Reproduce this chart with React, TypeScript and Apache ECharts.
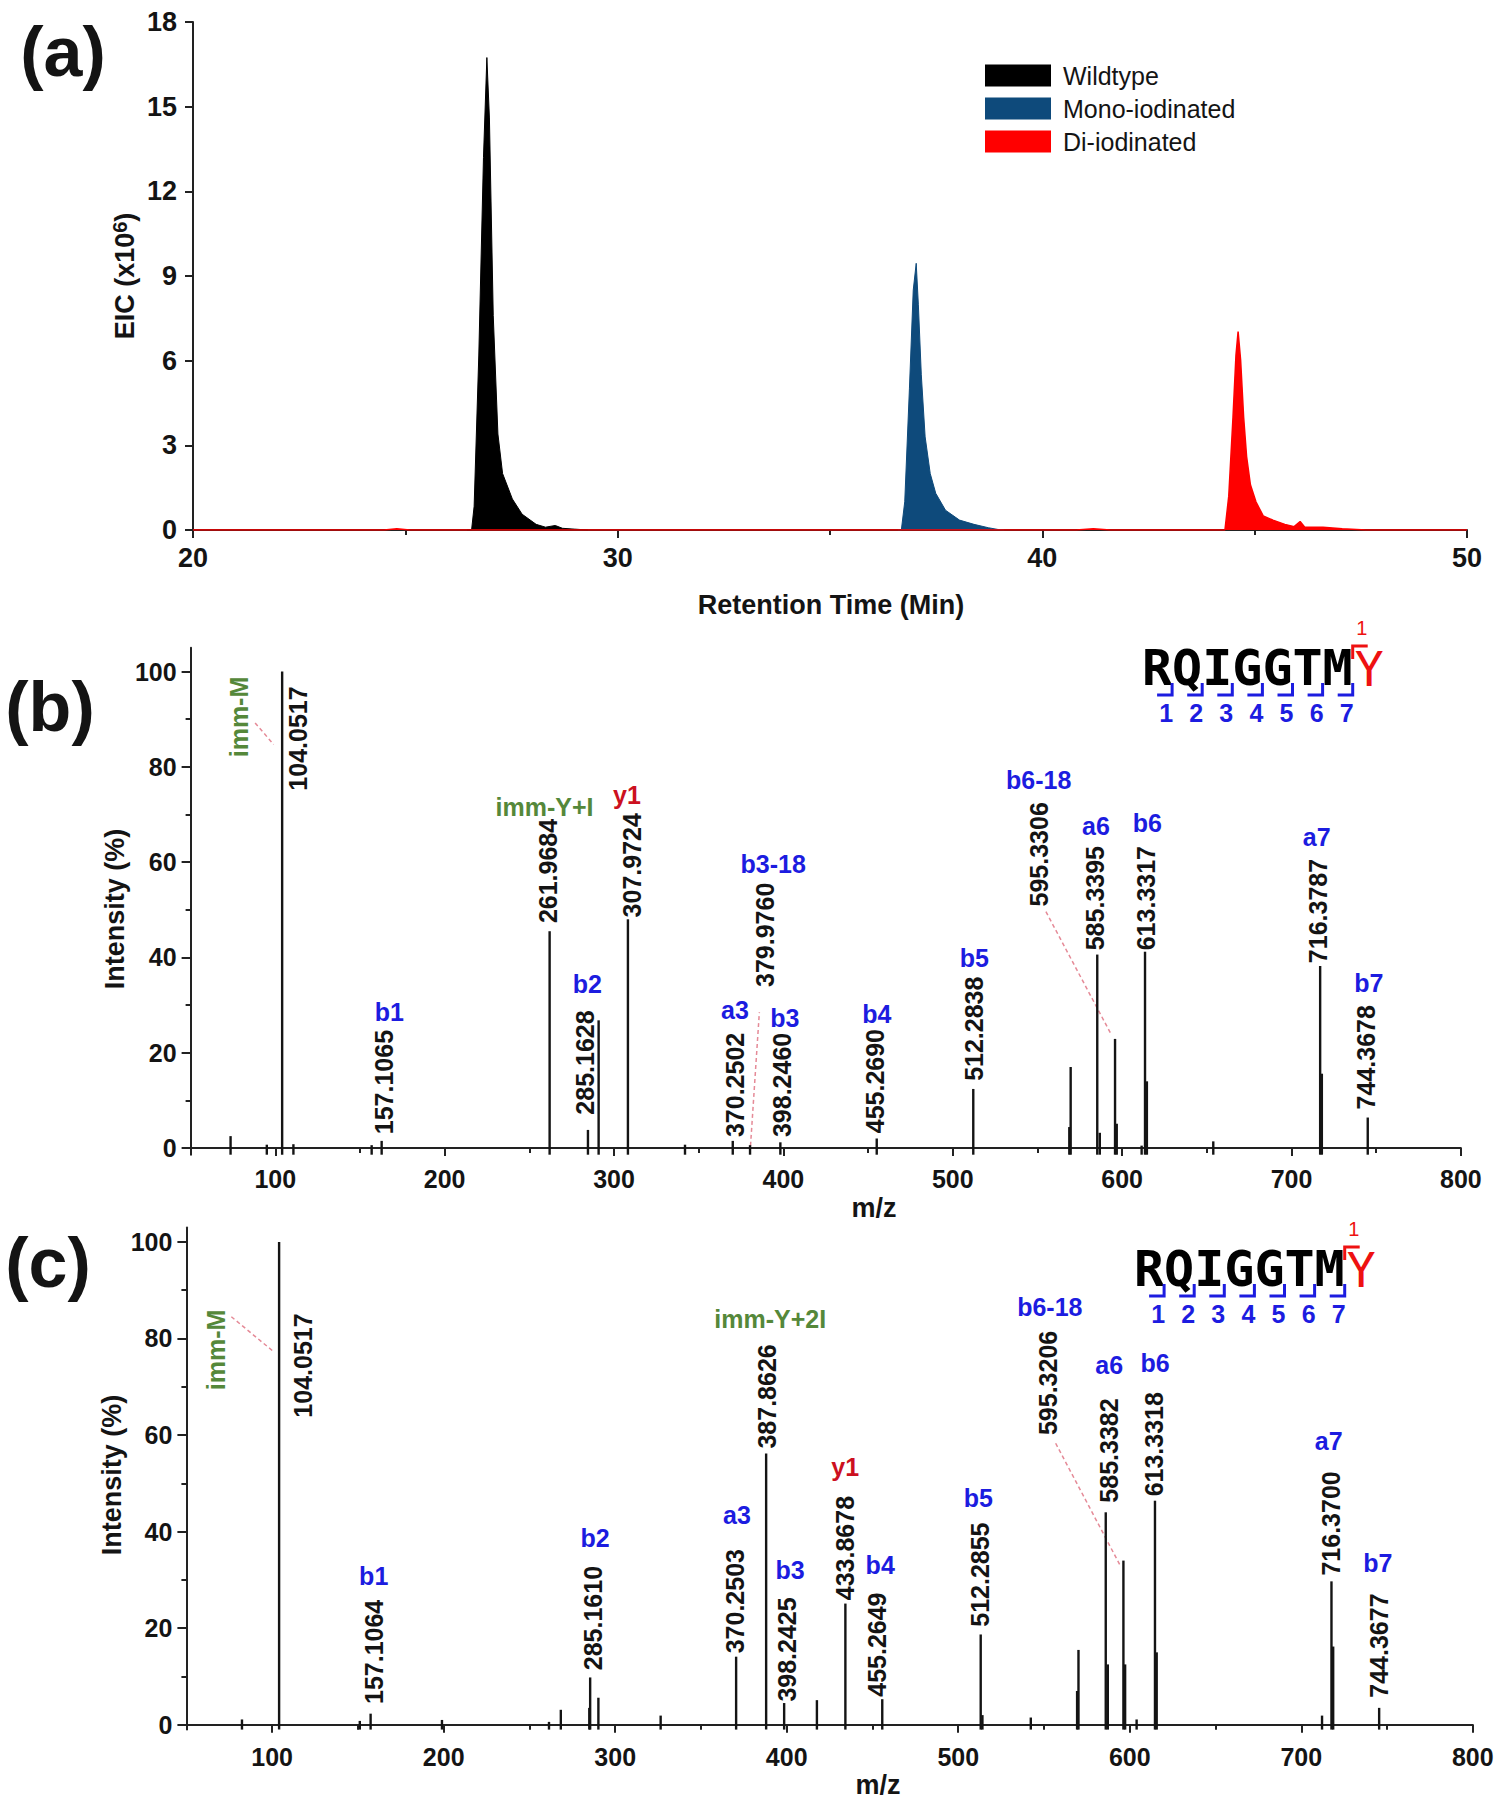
import React, { useEffect, useRef } from "react";
import * as echarts from "echarts";

const FONT = "'Liberation Sans', Arial, Helvetica, sans-serif";
const MONO = "'DejaVu Sans Mono', 'Liberation Mono', monospace";
const BLUE = "#1c1ce0";
const RED_LBL = "#cc1020";
const GREEN = "#55883a";
const PINK = "#e58a97";
const INK = "#141414";

// ---------------- Panel (a): EIC traces [retention time (min), EIC x10^6] ----------------
const seriesNames = ["Wildtype", "Mono-iodinated", "Di-iodinated"];
const seriesColors = ["#000000", "#0e4a7b", "#ff0000"];
const wildtypeTrace = [
  [26.45, 0], [26.56, 0], [26.62, 0.84], [26.73, 6.2], [26.84, 13.2], [26.92, 16.74],
  [26.98, 14.6], [27.07, 7.6], [27.18, 3.4], [27.29, 2.0], [27.52, 1.1], [27.75, 0.56],
  [28.08, 0.2], [28.3, 0.1], [28.53, 0.16], [28.7, 0.06], [28.99, 0.03], [29.3, 0],
];
const monoTrace = [
  [36.6, 0], [36.68, 0], [36.76, 1.0], [36.87, 5.0], [36.96, 8.5], [37.03, 9.45],
  [37.08, 8.0], [37.15, 5.5], [37.24, 3.3], [37.36, 2.0], [37.49, 1.3], [37.72, 0.7],
  [38.05, 0.35], [38.39, 0.2], [38.73, 0.08], [38.95, 0.02], [39.1, 0],
];
const diTrace = [
  [20, 0], [24.5, 0], [24.8, 0.04], [25.1, 0], [40.8, 0], [41.2, 0.04], [41.6, 0],
  [44.3, 0], [44.39, 1.2], [44.49, 4.0], [44.56, 6.2], [44.61, 7.03], [44.67, 6.0],
  [44.74, 4.0], [44.81, 2.6], [44.9, 1.6], [45.03, 1.0], [45.2, 0.5], [45.43, 0.35],
  [45.71, 0.2], [45.93, 0.12], [46.07, 0.3], [46.18, 0.1], [46.61, 0.1], [47.06, 0.04],
  [47.62, 0], [50, 0],
];

// ---------------- Panels (b),(c): MS/MS spectra ----------------
const mzMajorTicks = [100, 200, 300, 400, 500, 600, 700, 800];
const mzMinorTicks = [50, 150, 250, 350, 450, 550, 650, 750];
const intensityMajorTicks = [0, 20, 40, 60, 80, 100];
const intensityMinorTicks = [10, 30, 50, 70, 90];

// (b) peaks [m/z, relative intensity %]
const peaksB = [
  [73.6, 2.5], [95, 0.7], [104.05, 100], [110.7, 0.8], [156.9, 0.6], [162.8, 1.5],
  [261.97, 45.5], [284.6, 3.8], [290.9, 26.8], [308.2, 48], [341.9, 0.7], [370.1, 1.5],
  [380.3, 0.6], [398.2, 1.2], [455.1, 2.0], [512.1, 12.4], [568.8, 4.4], [569.6, 17],
  [585.3, 40.6], [586.8, 3.2], [595.8, 22.9], [596.8, 5.1], [611.5, 0.5], [613.5, 41.2],
  [614.6, 14], [653.8, 1.4], [716.9, 38.2], [717.9, 15.6], [745, 6.4],
];
// (b) m/z annotations [m/z, intensity at text foot, text]
const mzTextB = [
  [113.7, 75.0, "104.0517"], [164, 2.9, "157.1065"], [260.8, 47.2, "261.9684"],
  [282.9, 7.0, "285.1628"], [310.4, 48.4, "307.9724"], [371.4, 2.3, "370.2502"],
  [389.1, 33.8, "379.9760"], [399, 2.3, "398.2460"], [454.1, 3.1, "455.2690"],
  [512.7, 14.1, "512.2838"], [550.7, 50.7, "595.3306"], [583.7, 41.5, "585.3395"],
  [614, 41.5, "613.3317"], [715.5, 38.8, "716.3787"], [743.7, 8.1, "744.3678"],
];
// (b) ion annotations [m/z, intensity (centre), text, kind]
const ionTextB = [
  [167.4, 28.6, "b1", "b"], [259, 71.5, "imm-Y+I", "imm"], [307.6, 74, "y1", "y"],
  [284.2, 34.4, "b2", "b"], [371.4, 28.9, "a3", "b"], [394, 59.6, "b3-18", "b"],
  [400.9, 27.2, "b3", "b"], [455.1, 28.2, "b4", "b"], [512.7, 39.9, "b5", "b"],
  [550.7, 77.3, "b6-18", "b"], [584.5, 67.6, "a6", "b"], [614.9, 68.3, "b6", "b"],
  [714.9, 65.3, "a7", "b"], [745.6, 34.7, "b7", "b"],
];
const rotIonB = [[78.6, 82, "imm-M"]];
const leadersB = [
  [88.1, 89.2, 99.0, 84.7],
  [380.3, -1, 385.8, 28.5],
  [555, 49.6, 593, 24.2],
];

// (c) peaks
const peaksC = [
  [82.4, 1.1], [104.05, 100], [151.1, 0.8], [157.4, 2.3], [199, 1.0], [261.4, 0.6],
  [268.3, 3.1], [284.9, 3.5], [285.4, 9.8], [290.2, 5.6], [326.5, 1.9], [370.5, 14.1],
  [388, 56.2], [398.5, 4.5], [417.6, 5.1], [434.2, 25.1], [455.7, 5.3], [513.1, 18.7],
  [514.1, 2], [542.3, 1.5], [569.3, 7], [570.1, 15.5], [586, 44], [587.2, 12.5],
  [596.3, 34], [597.3, 12.5], [604, 1.1], [614.7, 46.4], [615.7, 15], [712.1, 1.9],
  [717.6, 29.7], [718.6, 16.2], [745.4, 3.5],
];
const mzTextC = [
  [117.7, 63.6, "104.0517"], [159.2, 4.3, "157.1064"], [287.2, 11.3, "285.1610"],
  [370, 14.8, "370.2503"], [388.4, 57.2, "387.8626"], [400.1, 4.8, "398.2425"],
  [434.1, 25.8, "433.8678"], [452.6, 5.8, "455.2649"], [512.8, 20.3, "512.2855"],
  [552.6, 60, "595.3206"], [588, 46, "585.3382"], [613.9, 47.3, "613.3318"],
  [717.6, 30.9, "716.3700"], [745.4, 5.6, "744.3677"],
];
const ionTextC = [
  [159.2, 30.9, "b1", "b"], [288.3, 38.7, "b2", "b"], [371, 43.4, "a3", "b"],
  [390.4, 84.1, "imm-Y+2I", "imm"], [402, 32, "b3", "b"], [434.1, 53.4, "y1", "y"],
  [454.5, 33, "b4", "b"], [511.7, 46.9, "b5", "b"], [553.4, 86.5, "b6-18", "b"],
  [588, 74.6, "a6", "b"], [614.7, 74.9, "b6", "b"], [716, 58.7, "a7", "b"],
  [744.6, 33.4, "b7", "b"],
];
const rotIonC = [[67, 69.3, "imm-M"]];
const leadersC = [
  [76.2, 84.5, 100.4, 77.4],
  [556.8, 58.3, 594.4, 33],
];

const peptide = ["R", "Q", "I", "G", "G", "T", "M"];
const modifiedResidue = "Y";
const bIonSites = [1, 2, 3, 4, 5, 6, 7];
const yIonSites = [1];

// ---------------- helpers ----------------
const kindColor = (k: string) => (k === "imm" ? GREEN : k === "y" ? RED_LBL : BLUE);

function stickSeries(data: number[][], idx: number, yMin: number) {
  return {
    type: "custom",
    xAxisIndex: idx,
    yAxisIndex: idx,
    silent: true,
    clip: false,
    z: 3,
    data: data.map((d) => [d[0], d[1]]),
    renderItem: (_p: any, api: any) => {
      const a = api.coord([api.value(0), yMin]);
      const b = api.coord([api.value(0), api.value(1)]);
      return {
        type: "line",
        shape: { x1: a[0], y1: a[1], x2: b[0], y2: b[1] },
        style: { stroke: INK, lineWidth: 2.4 },
      };
    },
  };
}

function rotTextSeries(items: any[], idx: number, color: string, weight: string) {
  return {
    type: "custom",
    xAxisIndex: idx,
    yAxisIndex: idx,
    silent: true,
    clip: false,
    z: 4,
    data: items.map((d) => [d[0], d[1]]),
    renderItem: (params: any, api: any) => {
      const it = items[params.dataIndex];
      const p = api.coord([it[0], it[1]]);
      return {
        type: "text",
        x: p[0],
        y: p[1],
        rotation: Math.PI / 2,
        style: {
          text: it[2],
          fill: color,
          fontSize: 25,
          fontWeight: weight,
          fontFamily: FONT,
          align: "left",
          verticalAlign: "middle",
        },
      };
    },
  };
}

function ionTextSeries(items: any[], idx: number) {
  return {
    type: "custom",
    xAxisIndex: idx,
    yAxisIndex: idx,
    silent: true,
    clip: false,
    z: 4,
    data: items.map((d) => [d[0], d[1]]),
    renderItem: (params: any, api: any) => {
      const it = items[params.dataIndex];
      const p = api.coord([it[0], it[1]]);
      return {
        type: "text",
        x: p[0],
        y: p[1],
        style: {
          text: it[2],
          fill: kindColor(it[3]),
          fontSize: 25,
          fontWeight: "bold",
          fontFamily: FONT,
          align: "center",
          verticalAlign: "middle",
        },
      };
    },
  };
}

function leaderSeries(items: number[][], idx: number) {
  return {
    type: "custom",
    xAxisIndex: idx,
    yAxisIndex: idx,
    silent: true,
    clip: false,
    z: 2,
    data: items,
    renderItem: (_p: any, api: any) => {
      const a = api.coord([api.value(0), api.value(1)]);
      const b = api.coord([api.value(2), api.value(3)]);
      return {
        type: "line",
        shape: { x1: a[0], y1: a[1], x2: b[0], y2: b[1] },
        style: { stroke: PINK, lineWidth: 1.5, lineDash: [4, 3] },
      };
    },
  };
}

function seqGraphic(x0: number, cy: number) {
  const cw = 30.1;
  const els: any[] = [];
  peptide.forEach((ch, i) =>
    els.push({
      type: "text",
      x: x0 + (i + 0.5) * cw,
      y: cy,
      style: { text: ch, fontSize: 50, fontWeight: "bold", fontFamily: MONO, fill: "#000", align: "center", verticalAlign: "middle" },
    })
  );
  els.push({
    type: "text",
    x: x0 + 7.55 * cw,
    y: cy + 1,
    style: { text: modifiedResidue, fontSize: 48, fontWeight: "normal", fontFamily: MONO, fill: "#ee1111", align: "center", verticalAlign: "middle" },
  });
  bIonSites.forEach((k) => {
    const bx = x0 + k * cw;
    els.push({
      type: "polyline",
      shape: { points: [[bx - 15, cy + 27], [bx, cy + 27], [bx, cy + 15]] },
      style: { stroke: BLUE, lineWidth: 3, fill: null },
    });
    els.push({
      type: "text",
      x: bx - 6,
      y: cy + 45,
      style: { text: String(k), fontSize: 25, fontWeight: "bold", fontFamily: FONT, fill: BLUE, align: "center", verticalAlign: "middle" },
    });
  });
  yIonSites.forEach((k) => {
    const bx = x0 + (peptide.length + 1 - k) * cw;
    els.push({
      type: "polyline",
      shape: { points: [[bx, cy - 9], [bx, cy - 22], [bx + 15, cy - 22]] },
      style: { stroke: "#ee1111", lineWidth: 3, fill: null },
    });
    els.push({
      type: "text",
      x: bx + 9,
      y: cy - 40,
      style: { text: String(k), fontSize: 20, fontWeight: "normal", fontFamily: FONT, fill: "#ee1111", align: "center", verticalAlign: "middle" },
    });
  });
  return els;
}

const axisLabelStyle = (size: number, margin: number) => ({
  fontFamily: FONT,
  fontWeight: "bold",
  fontSize: size,
  color: INK,
  margin,
});
const lineStyle = { color: "#222", width: 2 };

function txt(x: number, y: number, text: string, size: number, opts: any = {}) {
  return {
    type: "text",
    x,
    y,
    rotation: opts.rotation || 0,
    style: {
      text,
      fontSize: size,
      fontWeight: opts.weight || "bold",
      fontFamily: FONT,
      fill: opts.fill || INK,
      align: "center",
      verticalAlign: "middle",
      rich: opts.rich,
    },
  };
}

export default function App() {
  const ref = useRef<HTMLDivElement>(null);
  useEffect(() => {
    if (!ref.current) return;
    const chart = echarts.init(ref.current, null, { renderer: "svg" });
    const yMinB = -1.4;
    const yMinC = -1.0;
    const grids = [
      { left: 193, top: 22, width: 1274, height: 508, outerBoundsMode: "none" },
      { left: 190.6, top: 647.7, width: 1270.3, height: 507, outerBoundsMode: "none" },
      { left: 186.4, top: 1227.4, width: 1286.4, height: 502.2, outerBoundsMode: "none" },
    ];
    const mzMain = (gi: number, margin: number) => ({
      type: "value",
      gridIndex: gi,
      position: "bottom",
      min: 50,
      max: 800,
      axisLine: { lineStyle },
      axisTick: { length: 8, lineStyle, customValues: mzMajorTicks },
      axisLabel: { ...axisLabelStyle(25, margin), customValues: mzMajorTicks },
      splitLine: { show: false },
    });
    const mzMinor = (gi: number) => ({
      type: "value",
      gridIndex: gi,
      position: "bottom",
      min: 50,
      max: 800,
      axisLine: { show: false },
      axisTick: { length: 5, lineStyle, customValues: mzMinorTicks },
      axisLabel: { show: false },
      splitLine: { show: false },
    });
    const intMain = (gi: number, yMin: number, yMax: number) => ({
      type: "value",
      gridIndex: gi,
      position: "left",
      min: yMin,
      max: yMax,
      axisLine: { show: true, lineStyle },
      axisTick: { show: true, length: 9, lineStyle, customValues: intensityMajorTicks },
      axisLabel: { ...axisLabelStyle(25, 14), customValues: intensityMajorTicks },
      splitLine: { show: false },
    });
    const intMinor = (gi: number, yMin: number, yMax: number) => ({
      type: "value",
      gridIndex: gi,
      position: "left",
      min: yMin,
      max: yMax,
      axisLine: { show: false },
      axisTick: { show: true, length: 5, lineStyle, customValues: intensityMinorTicks },
      axisLabel: { show: false },
      splitLine: { show: false },
    });

    const traces = [wildtypeTrace, monoTrace, diTrace];
    const option: any = {
      animation: false,
      backgroundColor: "#ffffff",
      grid: grids,
      legend: {
        data: seriesNames,
        orient: "vertical",
        left: 980,
        top: 58,
        icon: "rect",
        itemWidth: 66,
        itemHeight: 22,
        itemGap: 8,
        selectedMode: false,
        textStyle: { fontFamily: FONT, fontSize: 25, color: INK, padding: [0, 0, 0, 7] },
      },
      xAxis: [
        {
          type: "value",
          gridIndex: 0,
          position: "bottom",
          min: 20,
          max: 50,
          interval: 10,
          axisLine: { onZero: false, lineStyle },
          axisTick: { length: 8, lineStyle },
          minorTick: { show: true, splitNumber: 2, length: 5, lineStyle },
          axisLabel: axisLabelStyle(27, 14),
          splitLine: { show: false },
          minorSplitLine: { show: false },
        },
        mzMain(1, 12),
        mzMinor(1),
        mzMain(2, 15),
        mzMinor(2),
      ],
      yAxis: [
        {
          type: "value",
          gridIndex: 0,
          position: "left",
          min: 0,
          max: 18,
          interval: 3,
          axisLine: { show: true, lineStyle },
          axisTick: { show: true, length: 8, lineStyle },
          axisLabel: axisLabelStyle(27, 16),
          splitLine: { show: false },
        },
        intMain(1, yMinB, 105),
        intMinor(1, yMinB, 105),
        intMain(2, yMinC, 103),
        intMinor(2, yMinC, 103),
      ],
      series: [
        ...traces.map((tr, i) => ({
          name: seriesNames[i],
          type: "line",
          xAxisIndex: 0,
          yAxisIndex: 0,
          data: tr,
          symbol: "none",
          showSymbol: false,
          color: seriesColors[i],
          itemStyle: { color: seriesColors[i] },
          lineStyle: { color: seriesColors[i], width: i === 2 ? 1.5 : 1 },
          areaStyle: { color: seriesColors[i], opacity: 1 },
          z: 2 + i,
        })),
        // panel (b)
        leaderSeries(leadersB, 1),
        stickSeries(peaksB, 1, yMinB),
        rotTextSeries(mzTextB, 1, INK, "bold"),
        rotTextSeries(rotIonB, 1, GREEN, "bold"),
        ionTextSeries(ionTextB, 1),
        // panel (c)
        leaderSeries(leadersC, 3),
        stickSeries(peaksC, 3, yMinC),
        rotTextSeries(mzTextC, 3, INK, "bold"),
        rotTextSeries(rotIonC, 3, GREEN, "bold"),
        ionTextSeries(ionTextC, 3),
      ],
      graphic: [
        txt(63, 52, "(a)", 70),
        txt(50, 707, "(b)", 70),
        txt(48, 1263, "(c)", 70),
        txt(831, 605, "Retention Time (Min)", 27),
        txt(874, 1208, "m/z", 27),
        txt(878, 1785, "m/z", 27),
        txt(125, 276, "EIC (x10{s|6})", 27, {
          rotation: Math.PI / 2,
          rich: { s: { fontSize: 20, fontWeight: "bold", fontFamily: FONT, fill: INK, verticalAlign: "top", padding: [0, 0, 10, 0] } },
        }),
        txt(115, 909, "Intensity (%)", 27, { rotation: Math.PI / 2 }),
        txt(112, 1475, "Intensity (%)", 27, { rotation: Math.PI / 2 }),
        ...seqGraphic(1142, 668),
        ...seqGraphic(1134, 1269),
      ],
    };
    chart.setOption(option);
    return () => chart.dispose();
  }, []);
  return (
    <div
      ref={ref}
      style={{ position: "absolute", left: 0, top: 0, width: 1498, height: 1800, background: "#fff" }}
    />
  );
}
